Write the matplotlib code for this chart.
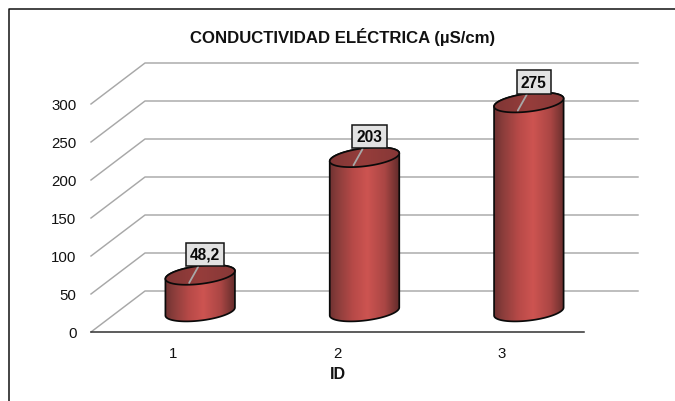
import numpy as np
import matplotlib
matplotlib.use('Agg')
import matplotlib.pyplot as plt
from matplotlib.colors import LinearSegmentedColormap
from matplotlib.lines import Line2D
from matplotlib.patches import Polygon

plt.rcParams['font.family'] = ['Liberation Sans', 'DejaVu Sans']

# Data
ids = [1, 2, 3]
conductividad = [48.2, 203, 275]
etiquetas = ['48,2', '203', '275']
y_ticks = [0, 50, 100, 150, 200, 250, 300]

fig = plt.figure(figsize=(6.75, 4.02), dpi=100)
ax = fig.add_axes([91 / 675, 69 / 402, 493 / 675, 228 / 402])
ax.set_xlim(0.5, 3.5)
ax.set_ylim(0, 300)

# px per data unit, used for the fake 3D
sx = 493 / 3
sy = 228 / 300
depth_x = 54 / sx
depth_y = 41 / sy

# back wall and side wall lines
for v in y_ticks:
    ax.plot([0.5, 0.5 + depth_x, 3.5 + depth_x], [v, v + depth_y, v + depth_y],
            color='#a8a8a8', lw=1.05, clip_on=False, zorder=1)

body_cmap = LinearSegmentedColormap.from_list(
    'body', [(0, '#6d3130'), (0.12, '#8a3d3b'), (0.35, '#b84a48'), (0.55, '#cd5451'),
             (0.8, '#aa4644'), (0.93, '#7c3634'), (1, '#642c2b')])
top_cmap = LinearSegmentedColormap.from_list('top', ['#7f3635', '#963d3b', '#863837'])
gradient = np.linspace(0, 1, 256).reshape(1, -1)

a, b = 35, 9
tilt = np.radians(7)
t0 = np.arctan2(-b * np.sin(tilt), a * np.cos(tilt))


def ellipse(cx, cy, t):
    ex = a * np.cos(t) * np.cos(tilt) - b * np.sin(t) * np.sin(tilt)
    ey = a * np.cos(t) * np.sin(tilt) + b * np.sin(t) * np.cos(tilt)
    return np.column_stack([cx + ex / sx, cy + ey / sy])


for x, v, lab in zip(ids, conductividad, etiquetas):
    cx = x + depth_x / 2
    base = depth_y / 2
    top = base + v
    low = np.linspace(t0 + np.pi, t0 + 2 * np.pi, 80)
    up = np.linspace(t0, t0 + np.pi, 80)
    outline = np.vstack([ellipse(cx, base, low), ellipse(cx, top, up)])
    body = Polygon(outline, closed=True, fc='none', ec='#0a0a0a', lw=1.25, zorder=4, clip_on=False)
    ax.add_patch(body)
    im = ax.imshow(gradient, cmap=body_cmap, aspect='auto', zorder=3,
                   extent=[cx - a / sx, cx + a / sx, base - 20, top + 20])
    im.set_clip_box(fig.bbox)
    im.set_clip_path(body)

    cap = Polygon(ellipse(cx, top, np.linspace(0, 2 * np.pi, 160)), closed=True,
                  fc='none', ec='#0a0a0a', lw=1.25, zorder=6, clip_on=False)
    ax.add_patch(cap)
    im2 = ax.imshow(gradient, cmap=top_cmap, aspect='auto', zorder=5,
                    extent=[cx - a / sx, cx + a / sx, top - 20, top + 20])
    im2.set_clip_box(fig.bbox)
    im2.set_clip_path(cap)

    # data label with leader line from the front of the cap
    ax.annotate(lab, xy=(cx - 11 / sx, top - 8 / sy), xytext=(11.5, 20.5),
                textcoords='offset points', ha='center', va='center',
                fontsize=11.2, fontweight='bold', color='#0a0a0a', zorder=8,
                bbox=dict(boxstyle='square,pad=0.27', fc='#e2e2e2', ec='#151515', lw=1.1),
                arrowprops=dict(arrowstyle='-', color='#a8a8a8', lw=1.3,
                                shrinkA=0, shrinkB=0))

ax.set_xlim(0.5, 3.5)
ax.set_ylim(0, 300)

for side in ['top', 'right', 'left']:
    ax.spines[side].set_visible(False)
ax.spines['bottom'].set_color('#303030')
ax.spines['bottom'].set_linewidth(1.1)
ax.patch.set_visible(False)

ax.set_xticks(ids)
ax.set_xticklabels(ids)
ax.set_yticks(y_ticks)
ax.tick_params(axis='x', length=0, pad=9.8, labelsize=10.8, labelcolor='#111111')
ax.tick_params(axis='y', length=0, pad=10.5, labelsize=10.8, labelcolor='#111111')
ax.set_xlabel('ID', fontsize=11.5, fontweight='bold', labelpad=4.8, color='#111111')

fig.text(343 / 675, 1 - 37 / 402, 'CONDUCTIVIDAD ELÉCTRICA (µS/cm)', ha='center', va='center',
         fontsize=12.1, fontweight='bold', color='#111111')

# chart frame, only top and left are inside the picture
fig.add_artist(Line2D([9 / 675, 9 / 675, 1], [0, 1 - 10 / 402, 1 - 10 / 402],
                      color='#111111', lw=1.1))

fig.savefig('out.png', dpi=100)
